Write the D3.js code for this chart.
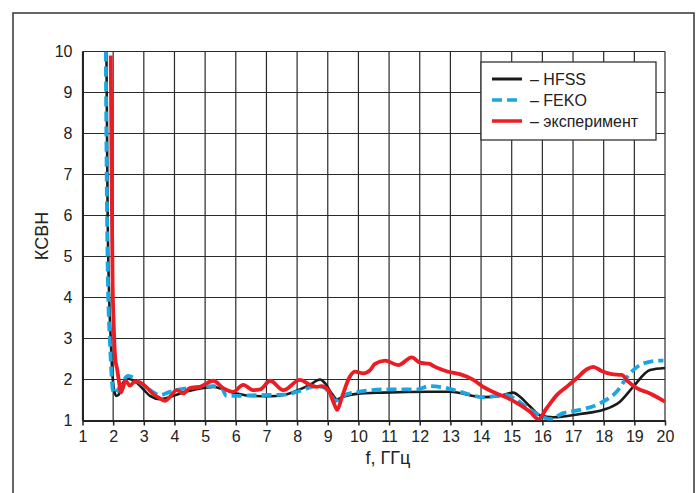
<!DOCTYPE html>
<html>
<head>
<meta charset="utf-8">
<script src="https://cdn.jsdelivr.net/npm/d3@7"></script>
<style>
  body { margin: 0; background: #fff; }
  text { font-family: "Liberation Sans", Arial, sans-serif; fill: #222; }
</style>
</head>
<body>
<svg id="chart"></svg>
<script>
// Frequency ticks (GHz) and VSWR ticks
const xTicks = d3.range(1, 21);
const yTicks = d3.range(1, 11);

// HFSS simulation
const hfss = [
  [1.78, 10], [1.82, 6], [1.87, 4], [1.92, 3], [1.97, 2.2], [2.03, 1.75], [2.1, 1.6], [2.17, 1.62],
  [2.3, 1.9], [2.49, 2.02], [2.77, 1.92], [3.0, 1.75], [3.2, 1.6], [3.53, 1.52], [3.85, 1.57],
  [4.18, 1.66], [4.72, 1.76], [5.27, 1.82], [5.59, 1.76], [6.03, 1.66], [6.46, 1.6], [7.12, 1.59],
  [7.55, 1.62], [8.09, 1.76], [8.42, 1.87], [8.75, 2.0], [8.91, 1.91], [9.13, 1.66], [9.29, 1.52],
  [9.5, 1.58], [9.94, 1.65], [10.81, 1.68], [12.33, 1.7], [12.99, 1.7], [14.07, 1.57], [14.62, 1.6],
  [15.05, 1.68], [15.27, 1.58], [15.6, 1.34], [15.92, 1.13], [16.36, 1.08], [17.23, 1.16],
  [17.99, 1.26], [18.53, 1.46], [18.96, 1.82], [19.51, 2.23], [20, 2.28]
];

// FEKO simulation
const feko = [
  [1.76, 10], [1.8, 6], [1.84, 4], [1.89, 3], [1.94, 2.2], [1.99, 1.75], [2.06, 1.66], [2.2, 1.8],
  [2.49, 2.09], [2.82, 1.95], [3.2, 1.74], [3.53, 1.62], [3.85, 1.7], [4.18, 1.76], [4.72, 1.81],
  [5.27, 1.84], [5.54, 1.79], [5.7, 1.6], [6.03, 1.6], [6.79, 1.62], [7.55, 1.63], [8.09, 1.72],
  [8.64, 1.84], [8.91, 1.79], [9.1, 1.62], [9.25, 1.48], [9.5, 1.6], [10.0, 1.7], [11.0, 1.76],
  [11.9, 1.76], [12.33, 1.84], [12.88, 1.79], [13.32, 1.7], [14.07, 1.57], [14.51, 1.6],
  [14.85, 1.62], [15.16, 1.5], [15.6, 1.26], [16.03, 1.08], [16.25, 1.03], [16.68, 1.18],
  [17.23, 1.26], [17.88, 1.42], [18.42, 1.7], [18.86, 2.15], [19.29, 2.39], [19.83, 2.46], [19.95, 2.46]
];

// Measurement
const experiment = [
  [1.92, 9.9], [1.95, 7], [1.98, 4.5], [2.02, 3.3], [2.07, 2.5], [2.13, 2.25], [2.2, 1.9], [2.25, 1.68],
  [2.32, 1.8], [2.4, 1.97], [2.55, 1.85], [2.7, 1.95], [2.9, 1.92], [3.1, 1.8], [3.3, 1.65],
  [3.5, 1.55], [3.7, 1.48], [3.9, 1.62], [4.07, 1.74], [4.29, 1.66], [4.5, 1.79], [4.83, 1.82],
  [5.27, 1.97], [5.59, 1.79], [5.92, 1.7], [6.24, 1.87], [6.57, 1.74], [6.8, 1.76], [7.12, 1.97],
  [7.55, 1.74], [8.09, 1.99], [8.42, 1.87], [8.64, 1.82], [8.8, 1.84], [9.02, 1.74], [9.18, 1.46],
  [9.31, 1.26], [9.45, 1.54], [9.72, 2.07], [9.89, 2.19], [10.16, 2.15], [10.38, 2.23], [10.54, 2.38],
  [10.87, 2.46], [11.3, 2.35], [11.74, 2.54], [12.01, 2.41], [12.33, 2.38], [12.44, 2.33],
  [12.93, 2.19], [13.31, 2.13], [13.75, 1.99], [14.07, 1.82], [14.51, 1.66], [14.89, 1.54],
  [15.27, 1.38], [15.6, 1.21], [15.87, 1.03], [16.14, 1.3], [16.47, 1.62], [16.79, 1.82],
  [17.12, 2.03], [17.45, 2.25], [17.66, 2.31], [17.93, 2.21], [18.26, 2.13], [18.59, 2.11],
  [18.8, 1.95], [19.08, 1.79], [19.51, 1.66], [20, 1.46]
];

const seriesNames = ['– HFSS', '– FEKO', '– эксперимент'];

const W = 699, H = 493;
const plot = { left: 82.5, right: 665, top: 51.5, bottom: 420.5 };

const svg = d3.select('#chart').attr('width', W).attr('height', H);

// Outer frame
svg.append('rect')
  .attr('x', 13).attr('y', 13)
  .attr('width', 681).attr('height', 500)
  .attr('fill', 'none').attr('stroke', '#333').attr('stroke-width', 1.5);

const x = d3.scaleLinear().domain([1, 20]).range([plot.left, plot.right]);
const y = d3.scaleLinear().domain([1, 10]).range([plot.bottom, plot.top]);

// Grid
const grid = svg.append('g').attr('stroke', '#2a2a2a').attr('stroke-width', 1.2);
grid.selectAll('.vg').data(xTicks).enter().append('line')
  .attr('x1', d => x(d)).attr('x2', d => x(d))
  .attr('y1', plot.top).attr('y2', plot.bottom);
grid.selectAll('.hg').data(yTicks).enter().append('line')
  .attr('x1', plot.left).attr('x2', plot.right)
  .attr('y1', d => y(d)).attr('y2', d => y(d));

// Axes
const xAxis = svg.append('g')
  .attr('transform', `translate(0, ${plot.bottom})`)
  .call(d3.axisBottom(x).tickValues(xTicks).tickSize(5).tickSizeOuter(0).tickPadding(5));
xAxis.select('.domain').attr('stroke', '#222').attr('stroke-width', 2);
xAxis.selectAll('.tick line').attr('stroke', '#222').attr('stroke-width', 1.5);
xAxis.selectAll('.tick text').style('font-size', '16px').attr('fill', '#222');

const yAxis = svg.append('g')
  .attr('transform', `translate(${plot.left}, 0)`)
  .call(d3.axisLeft(y).tickValues(yTicks).tickSize(0).tickPadding(10));
yAxis.select('.domain').attr('stroke', '#222').attr('stroke-width', 2);
yAxis.selectAll('.tick text').style('font-size', '16px').attr('fill', '#222');

// Axis titles
svg.append('text')
  .attr('x', 388).attr('y', 464)
  .attr('text-anchor', 'middle')
  .style('font-size', '18px')
  .text('f, ГГц');

svg.append('text')
  .attr('transform', 'translate(48, 236) rotate(-90)')
  .attr('text-anchor', 'middle')
  .style('font-size', '18px')
  .text('КСВН');

// Curves
svg.append('clipPath').attr('id', 'clip')
  .append('rect')
  .attr('x', plot.left).attr('y', plot.top)
  .attr('width', plot.right - plot.left).attr('height', plot.bottom - plot.top);

const lines = svg.append('g').attr('clip-path', 'url(#clip)');

const lineSmooth = d3.line()
  .x(d => x(d[0])).y(d => y(d[1]))
  .curve(d3.curveMonotoneX);

lines.append('path')
  .datum(hfss)
  .attr('d', lineSmooth)
  .attr('fill', 'none').attr('stroke', '#1a1a1a').attr('stroke-width', 2.6);

lines.append('path')
  .datum(feko)
  .attr('d', lineSmooth)
  .attr('fill', 'none').attr('stroke', '#1aa7e1').attr('stroke-width', 3.8)
  .attr('stroke-dasharray', '10,5');

lines.append('path')
  .datum(experiment)
  .attr('d', lineSmooth)
  .attr('fill', 'none').attr('stroke', '#ec1c24').attr('stroke-width', 3.8)
  .attr('stroke-linejoin', 'round');

// Legend
const legend = svg.append('g');
legend.append('rect')
  .attr('x', 481).attr('y', 62).attr('width', 175).attr('height', 78)
  .attr('fill', '#fff').attr('stroke', '#333').attr('stroke-width', 1.3);

const legendStyle = [
  { color: '#1a1a1a', dash: null, width: 3 },
  { color: '#1aa7e1', dash: '10,5', width: 3.5 },
  { color: '#ec1c24', dash: null, width: 3.5 }
];
const rowY = [79, 100, 121];

seriesNames.forEach((name, i) => {
  legend.append('line')
    .attr('x1', 492).attr('x2', 522)
    .attr('y1', rowY[i]).attr('y2', rowY[i])
    .attr('stroke', legendStyle[i].color)
    .attr('stroke-width', legendStyle[i].width)
    .attr('stroke-dasharray', legendStyle[i].dash);
  legend.append('text')
    .attr('x', 530).attr('y', rowY[i] + 6)
    .style('font-size', '16px')
    .text(name);
});
</script>
</body>
</html>
